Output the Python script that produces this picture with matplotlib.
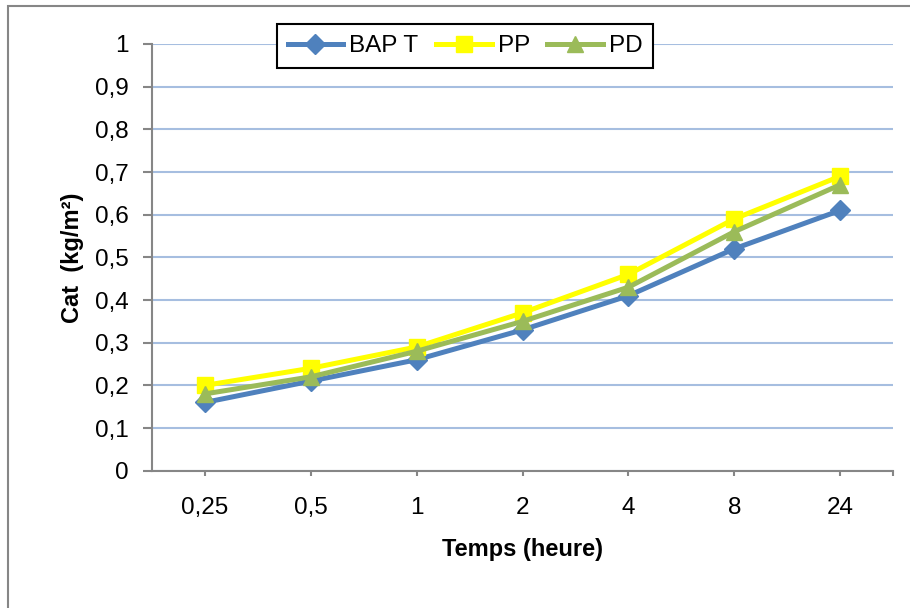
import matplotlib.pyplot as plt
import matplotlib.patches as patches

# Données
temps = ['0,25', '0,5', '1', '2', '4', '8', '24']
bap_t = [0.16, 0.21, 0.26, 0.33, 0.41, 0.52, 0.61]
pp = [0.20, 0.24, 0.29, 0.37, 0.46, 0.59, 0.69]
pd_vals = [0.18, 0.22, 0.28, 0.35, 0.43, 0.56, 0.67]

plt.rcParams['font.family'] = ['Liberation Sans', 'DejaVu Sans']

fig = plt.figure(figsize=(9.1, 6.08), dpi=100)
ax = fig.add_axes([152 / 910, 1 - 470.7 / 608, (893 - 152) / 910, (470.7 - 44) / 608])

# Cadre du graphique (type Excel)
fig.patches.append(patches.Rectangle((8 / 910, -0.1), 1.2, 1.1 - 6 / 608,
                                     transform=fig.transFigure, fill=False,
                                     edgecolor='#868686', linewidth=1.5))

x = list(range(len(temps)))
ax.plot(x, bap_t, color='#4F81BD', linewidth=3.6, marker='D', markersize=10, label='BAP T', zorder=3)
ax.plot(x, pp, color='#FFFF00', linewidth=3.6, marker='s', markersize=11, label='PP', zorder=4)
ax.plot(x, pd_vals, color='#9BBB59', linewidth=3.6, marker='^', markersize=12, label='PD', zorder=5)

ax.set_xlim(-0.5, len(temps) - 0.5)
ax.set_ylim(0, 1)
ax.set_yticks([i / 10 for i in range(11)])
ax.set_yticklabels(['0'] + [f'0,{i}' for i in range(1, 10)] + ['1'])
ax.set_xticks(x)
ax.set_xticklabels(temps)
ax.set_xticks([len(temps) - 0.5], minor=True)

ax.grid(axis='y', color='#A6BEE0', linewidth=1.5, zorder=0)
ax.set_axisbelow(True)
for side in ['top', 'right']:
    ax.spines[side].set_visible(False)
for side in ['left', 'bottom']:
    ax.spines[side].set_color('#868686')
    ax.spines[side].set_linewidth(1.5)

ax.tick_params(axis='y', length=6.5, width=1.5, color='#868686', labelsize=17.5, pad=10)
ax.tick_params(axis='x', which='both', length=3.6, width=1.5, color='#868686', labelsize=17.5, pad=15)

ax.set_xlabel('Temps (heure)', fontsize=17, fontweight='bold', labelpad=14)
ax.set_ylabel('Cat  (kg/m²)', fontsize=17, fontweight='bold', labelpad=8)

leg = ax.legend(loc='center', bbox_to_anchor=(465 / 910, 1 - 46 / 608), bbox_transform=fig.transFigure,
                ncol=3, fancybox=False, framealpha=1, edgecolor='black', fontsize=17.5,
                handlelength=2.3, columnspacing=0.7, handletextpad=0.25, borderpad=0.45)
leg.get_frame().set_linewidth(1.5)

fig.savefig('out.png', dpi=100)
